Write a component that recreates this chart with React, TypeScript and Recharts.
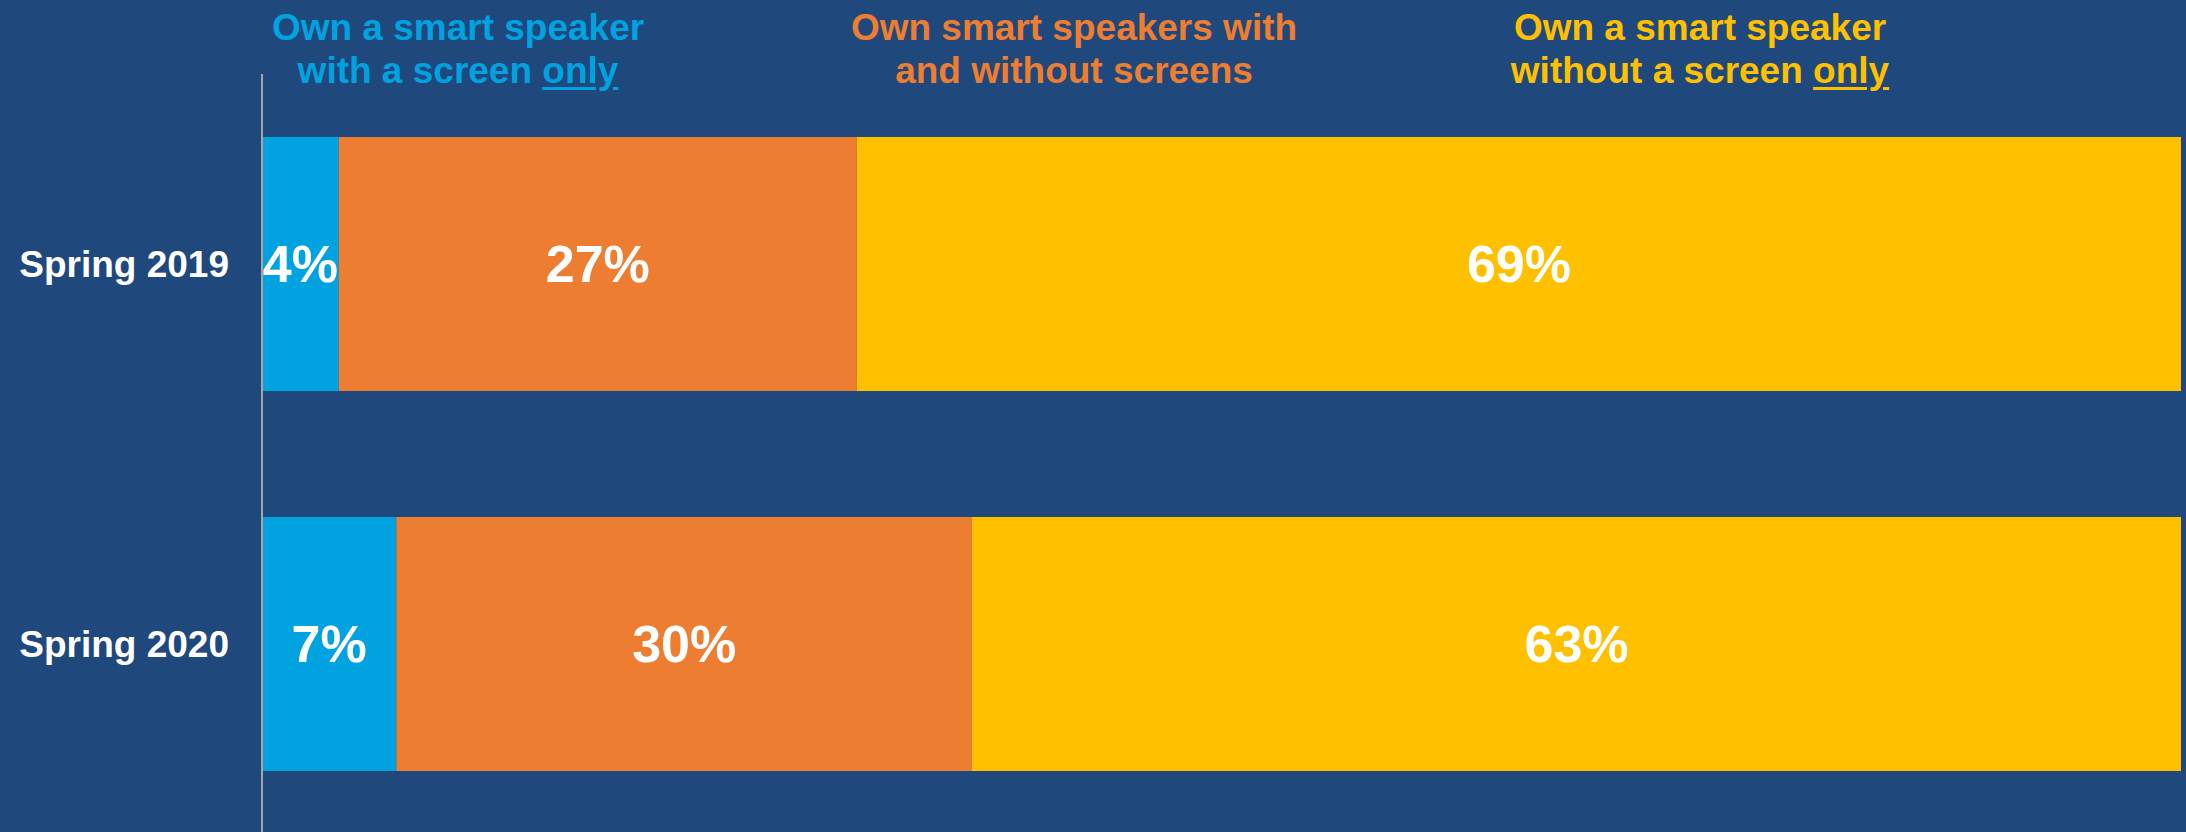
import React from "react";
import { BarChart, Bar, XAxis, YAxis, LabelList } from "recharts";

// survey periods (rows) and the three ownership groups (stacked segments)
const periods = ["Spring 2019", "Spring 2020"];
const screenOnly = [4, 7];
const withAndWithout = [27, 30];
const noScreenOnly = [69, 63];

const seriesKeys = ["screenOnly", "both", "noScreenOnly"];
const seriesNames = [
  "Own a smart speaker\nwith a screen only",
  "Own smart speakers with\nand without screens",
  "Own a smart speaker\nwithout a screen only",
];
const seriesColors = ["#00A3E0", "#ED7D31", "#FFC000"];

const BG = "#1F487C";
const FONT = '"Liberation Sans", Arial, Helvetica, sans-serif';

// header block centres (px) above the chart
const headerCenters = [458, 1074, 1700];

const data = periods.map((p, i) => ({
  period: p,
  screenOnly: screenOnly[i],
  both: withAndWithout[i],
  noScreenOnly: noScreenOnly[i],
}));

const pct = (v: any) => `${v}%`;

function HeaderLine({ text }: { text: string }) {
  // underline a trailing "only"
  if (text.endsWith(" only")) {
    return (
      <div>
        {text.slice(0, -4)}
        <span style={{ textDecoration: "underline", textUnderlineOffset: 4 }}>
          only
        </span>
      </div>
    );
  }
  return <div>{text}</div>;
}

const Headers = () => (
  <>
    {seriesNames.map((name, i) => (
      <div
        key={name}
        style={{
          position: "absolute",
          top: 6,
          left: headerCenters[i] - 250,
          width: 500,
          textAlign: "center",
          color: seriesColors[i],
          fontFamily: FONT,
          fontWeight: 700,
          fontSize: 37,
          lineHeight: "43px",
          whiteSpace: "nowrap",
        }}
      >
        {name.split("\n").map((line) => (
          <HeaderLine key={line} text={line} />
        ))}
      </div>
    ))}
  </>
);

export default function App() {
  return (
    <div
      style={{
        position: "fixed",
        top: 0,
        left: 0,
        width: 2186,
        height: 832,
        overflow: "hidden",
        background: BG,
      }}
    >
      <BarChart
        width={2186}
        height={840}
        data={data}
        layout="vertical"
        margin={{ top: 74, right: 5, bottom: 6, left: 0 }}
        barSize={254}
      >
        <XAxis type="number" domain={[0, 100]} hide />
        <YAxis
          type="category"
          dataKey="period"
          width={262}
          axisLine={{ stroke: "#A6A6A6", strokeWidth: 2 }}
          tickLine={false}
          tickSize={0}
          tickMargin={33}
          tick={{
            fill: "#FFFFFF",
            fontSize: 37,
            fontWeight: 700,
            fontFamily: FONT,
          }}
        />
        {seriesKeys.map((k, i) => (
          <Bar
            key={k}
            dataKey={k}
            name={seriesNames[i]}
            stackId="a"
            fill={seriesColors[i]}
            isAnimationActive={false}
          >
            <LabelList
              dataKey={k}
              position="center"
              formatter={pct}
              fill="#FFFFFF"
              fontSize={52}
              fontWeight={700}
              fontFamily={FONT}
            />
          </Bar>
        ))}
      </BarChart>
      <Headers />
    </div>
  );
}
